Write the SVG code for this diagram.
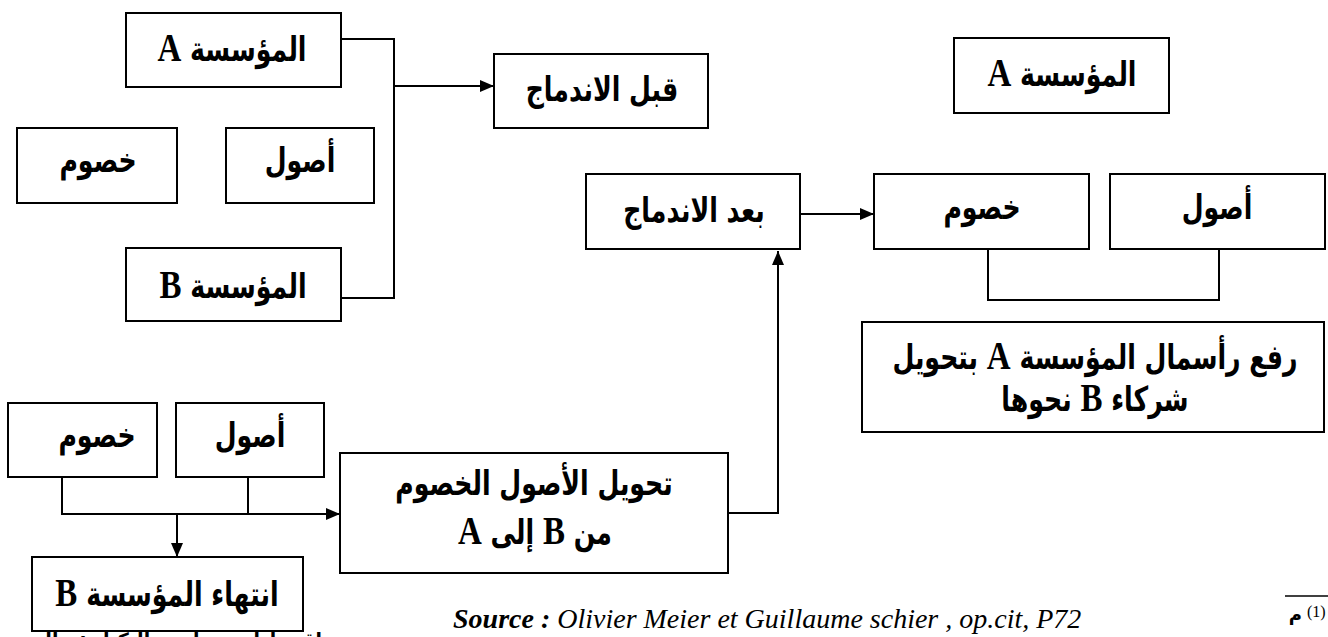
<svg xmlns="http://www.w3.org/2000/svg" width="1328" height="637" viewBox="0 0 1328 637">
<defs>
<style>
.box{fill:#fff;stroke:#000;stroke-width:2}
.lbl{font-family:"DejaVu Sans Condensed","DejaVu Sans",sans-serif;font-weight:bold;font-size:28px;fill:#000;text-anchor:middle;direction:rtl;unicode-bidi:embed;transform-box:fill-box;transform-origin:center;transform:scaleY(1.22)}
.lat{font-family:"Liberation Serif",serif;font-size:33px;font-weight:bold}
.ln{fill:none;stroke:#000;stroke-width:2}
.foot{font-family:"Liberation Serif",serif;font-style:italic;font-size:28px;fill:#000}
</style>
<marker id="arr" viewBox="0 0 14 12" refX="14" refY="6" markerWidth="14" markerHeight="12" markerUnits="userSpaceOnUse" orient="auto">
<path d="M0,0 L14,6 L0,12 Z" fill="#000"/>
</marker>
</defs>
<rect width="1328" height="637" fill="#fff"/>

<text x="322" y="648" style="font-family:'DejaVu Sans Condensed','DejaVu Sans',sans-serif;font-size:21px;font-weight:bold;direction:rtl;unicode-bidi:embed" text-anchor="start">اقتصادات و ظهور التكتل : حالة</text>

<g id="connectors">
<polyline class="ln" points="341,39 394,39 394,298 341,298"/>
<line class="ln" x1="394" y1="86" x2="494" y2="86" marker-end="url(#arr)"/>
<polyline class="ln" points="62,477 62,514 248,514 248,477"/>
<line class="ln" x1="248" y1="514" x2="340" y2="514" marker-end="url(#arr)"/>
<line class="ln" x1="177" y1="514" x2="177" y2="557" marker-end="url(#arr)"/>
<polyline class="ln" points="728,513 778,513 778,251" marker-end="url(#arr)"/>
<line class="ln" x1="800" y1="214" x2="874" y2="214" marker-end="url(#arr)"/>
<polyline class="ln" points="988,250 988,300 1219,300 1219,250"/>
</g>

<g id="n-company-a-left"><rect class="box" x="126" y="13" width="215" height="74"/><text class="lbl" x="232" y="59">المؤسسة <tspan class="lat">A</tspan></text></g>
<g id="n-liab-left"><rect class="box" x="17" y="128" width="160" height="75"/><text class="lbl" x="98" y="170">خصوم</text></g>
<g id="n-assets-left"><rect class="box" x="226" y="128" width="148" height="75"/><text class="lbl" x="300" y="170">أصول</text></g>
<g id="n-company-b"><rect class="box" x="126" y="248" width="215" height="73"/><text class="lbl" x="233" y="296">المؤسسة <tspan class="lat">B</tspan></text></g>
<g id="n-before"><rect class="box" x="494" y="54" width="214" height="74"/><text class="lbl" x="602" y="99">قبل الاندماج</text></g>
<g id="n-after"><rect class="box" x="586" y="174" width="214" height="75"/><text class="lbl" x="694" y="220">بعد الاندماج</text></g>
<g id="n-company-a-right"><rect class="box" x="954" y="38" width="215" height="75"/><text class="lbl" x="1062" y="84">المؤسسة <tspan class="lat">A</tspan></text></g>
<g id="n-liab-right"><rect class="box" x="874" y="174" width="215" height="75"/><text class="lbl" x="982" y="217">خصوم</text></g>
<g id="n-assets-right"><rect class="box" x="1110" y="174" width="215" height="75"/><text class="lbl" x="1217" y="217">أصول</text></g>
<g id="n-capital"><rect class="box" x="862" y="322" width="462" height="110"/><text class="lbl" x="1095" y="367">رفع رأسمال المؤسسة <tspan class="lat">A</tspan> بتحويل</text><text class="lbl" x="1095" y="409">شركاء <tspan class="lat">B</tspan> نحوها</text></g>
<g id="n-liab-bottom"><rect class="box" x="8" y="403" width="149" height="74"/><text class="lbl" x="97" y="445">خصوم</text></g>
<g id="n-assets-bottom"><rect class="box" x="176" y="403" width="148" height="74"/><text class="lbl" x="250" y="445">أصول</text></g>
<g id="n-transfer"><rect class="box" x="340" y="453" width="388" height="120"/><text class="lbl" x="534" y="493">تحويل الأصول  الخصوم</text><text class="lbl" x="535" y="542">من  <tspan class="lat">B</tspan> إلى <tspan class="lat">A</tspan></text></g>
<g id="n-end-b"><rect class="box" x="32" y="557" width="271" height="74"/><text class="lbl" x="167" y="604">انتهاء المؤسسة <tspan class="lat">B</tspan></text></g>

<text class="foot" x="453" y="628"><tspan font-weight="bold">Source :</tspan> Olivier Meier et Guillaume schier , op.cit, P72</text>
<line x1="1285" y1="596" x2="1328" y2="596" stroke="#000" stroke-width="1.5"/>
<text x="1307" y="617" style="font-family:'Liberation Serif',serif;font-size:16px">(1)</text>
<text x="1302" y="621" style="font-family:'DejaVu Sans',sans-serif;font-size:18px;font-weight:bold;text-anchor:end">م</text>
</svg>
